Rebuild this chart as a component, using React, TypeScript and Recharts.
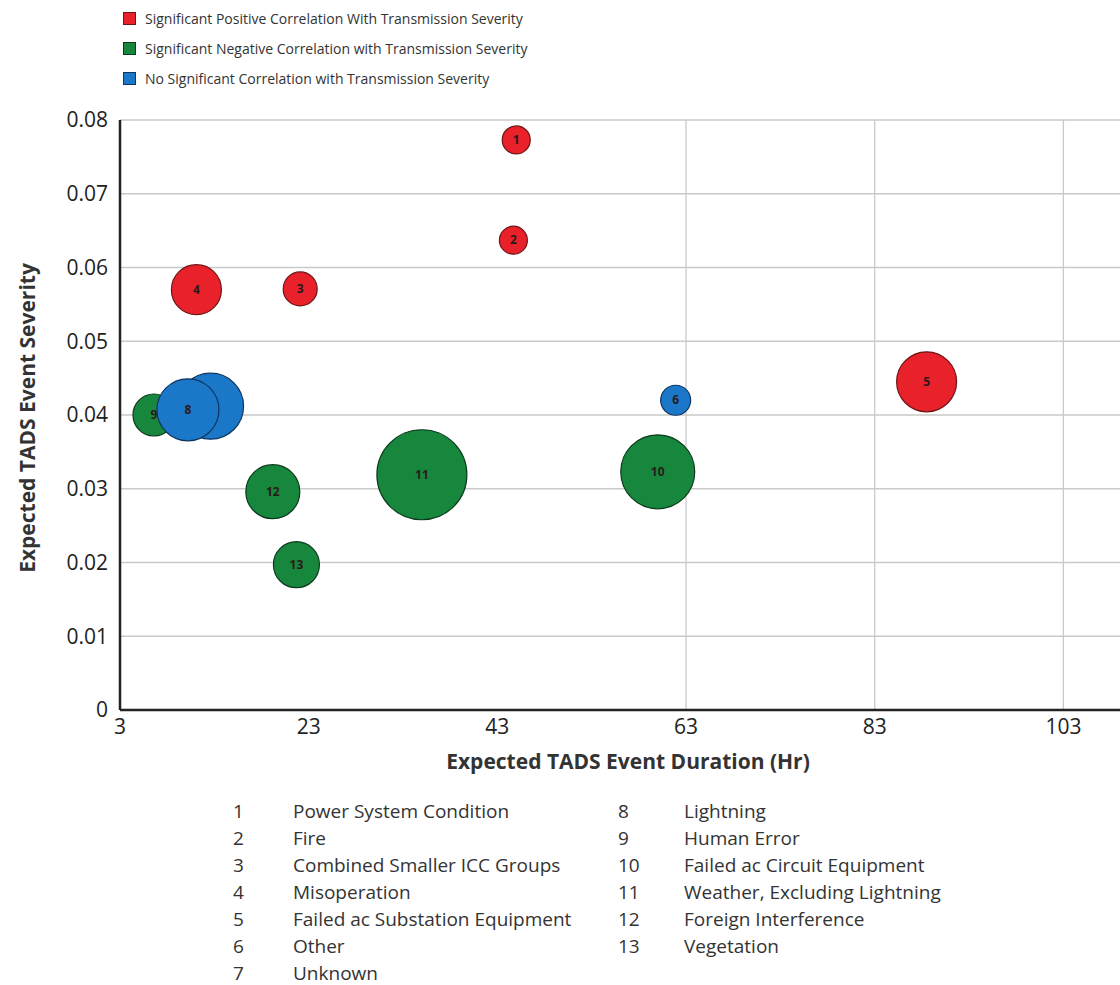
import React from 'react';
import {
  ScatterChart,
  Scatter,
  XAxis,
  YAxis,
  ZAxis,
  CartesianGrid,
  ReferenceLine,
} from 'recharts';

// ICC groups, numbered 1..13 in the chart
const groupIds = [1, 2, 3, 4, 5, 6, 7, 8, 9, 10, 11, 12, 13];
const groupNames = [
  'Power System Condition',
  'Fire',
  'Combined Smaller ICC Groups',
  'Misoperation',
  'Failed ac Substation Equipment',
  'Other',
  'Unknown',
  'Lightning',
  'Human Error',
  'Failed ac Circuit Equipment',
  'Weather, Excluding Lightning',
  'Foreign Interference',
  'Vegetation',
];
const duration = [45.0, 44.7, 22.1, 11.1, 88.5, 61.9, 12.6, 10.2, 6.6, 60.0, 35.0, 19.2, 21.7];
const severity = [0.0773, 0.0637, 0.0571, 0.057, 0.0445, 0.042, 0.0412, 0.0407, 0.04, 0.0323, 0.0319, 0.0296, 0.0197];
const bubbleSize = [196, 196, 289, 625, 900, 225, 1089, 961, 441, 1369, 2025, 729, 529];
const correlation = ['pos', 'pos', 'pos', 'pos', 'pos', 'none', 'none', 'none', 'neg', 'neg', 'neg', 'neg', 'neg'];

const xTicks = [3, 23, 43, 63, 83, 103];
const verticalGridX = [63, 83, 103];
const yTicks = [0, 0.01, 0.02, 0.03, 0.04, 0.05, 0.06, 0.07, 0.08];

const seriesDefs = [
  { key: 'pos', label: 'Significant Positive Correlation With Transmission Severity', fill: '#e8212b', stroke: '#6e1515' },
  { key: 'neg', label: 'Significant Negative Correlation with Transmission Severity', fill: '#17873d', stroke: '#0c3a1c' },
  { key: 'none', label: 'No Significant Correlation with Transmission Severity', fill: '#1b78c9', stroke: '#0c3560' },
];

const points = groupIds.map((id, i) => ({
  id,
  x: duration[i],
  y: severity[i],
  z: bubbleSize[i],
  group: correlation[i],
}));

const FONT = '"Open Sans", sans-serif';

function Bubble(props: any) {
  const { cx, cy, size, payload, color, edge } = props;
  const r = size ? Math.sqrt(size / Math.PI) : Math.sqrt(payload.z);
  return (
    <g>
      <circle cx={cx} cy={cy} r={r} fill={color} stroke={edge} strokeWidth={1.2} />
      <text
        x={cx}
        y={cy}
        dy={4}
        textAnchor="middle"
        fontSize={12}
        fontWeight={700}
        fontFamily={FONT}
        fill="#2b1a1a"
      >
        {payload.id}
      </text>
    </g>
  );
}

export default function App() {
  const leftCol = groupIds.slice(0, 7);
  const rightCol = groupIds.slice(7);
  return (
    <div style={{ position: 'relative', width: 1120, height: 985, background: '#fff', fontFamily: FONT, overflow: 'hidden' }}>
      <style>{'body{margin:0;overflow:hidden}'}</style>
      {/* series legend */}
      <div style={{ position: 'absolute', left: 123, top: 3 }}>
        {seriesDefs.map((s) => (
          <div key={s.key} style={{ display: 'flex', alignItems: 'center', height: 30 }}>
            <span style={{ width: 11, height: 11, background: s.fill, border: `1px solid ${s.stroke}`, marginRight: 9 }} />
            <span style={{ fontSize: 14, color: '#333' }}>{s.label}</span>
          </div>
        ))}
      </div>

      <div style={{ position: 'absolute', left: 0, top: 0 }}>
        <ScatterChart width={1120} height={780} margin={{ top: 120, right: 0, bottom: 30, left: 0 }}>
          <CartesianGrid vertical={false} stroke="#c9c9c9" strokeWidth={1.3} />
          {verticalGridX.map((x) => (
            <ReferenceLine key={x} x={x} stroke="#c9c9c9" strokeWidth={1.3} />
          ))}
          <XAxis
            type="number"
            dataKey="x"
            domain={[3, 109]}
            ticks={xTicks}
            allowDataOverflow
            height={40}
            tickLine={false}
            axisLine={{ stroke: '#222', strokeWidth: 2.5 }}
            tick={{ fontSize: 21, fill: '#222', fontFamily: FONT }}
            tickMargin={3}
          />
          <YAxis
            type="number"
            dataKey="y"
            domain={[0, 0.08]}
            ticks={yTicks}
            width={120}
            tickLine={false}
            axisLine={{ stroke: '#222', strokeWidth: 2.5 }}
            tick={{ fontSize: 21, fill: '#222', fontFamily: FONT }}
            tickMargin={6}
            tickFormatter={(v: number) => (v === 0 ? '0' : v.toFixed(2))}
          />
          <ZAxis type="number" dataKey="z" domain={[0, 2025]} range={[0, 2025 * Math.PI]} />
          {seriesDefs.map((s) => (
            <Scatter
              key={s.key}
              name={s.label}
              data={points.filter((p) => p.group === s.key)}
              isAnimationActive={false}
              shape={(p: any) => <Bubble {...p} color={s.fill} edge={s.stroke} />}
            />
          ))}
        </ScatterChart>
      </div>

      {/* axis titles */}
      <div style={{ position: 'absolute', left: 0, width: 1256, top: 747, textAlign: 'center', fontSize: 21, fontWeight: 700, color: '#333' }}>
        Expected TADS Event Duration (Hr)
      </div>
      <div
        style={{
          position: 'absolute',
          left: 27,
          top: 418,
          transform: 'translate(-50%, -50%) rotate(-90deg)',
          whiteSpace: 'nowrap',
          fontSize: 21,
          fontWeight: 700,
          color: '#333',
        }}
      >
        Expected TADS Event Severity
      </div>

      {/* ICC group key */}
      {[leftCol, rightCol].map((col, ci) => (
        <div key={ci} style={{ position: 'absolute', left: ci === 0 ? 225 : 612, top: 797 }}>
          {col.map((id) => (
            <div key={id} style={{ display: 'flex', height: 27, alignItems: 'center', fontSize: 19, color: '#333' }}>
              <span style={{ width: ci === 0 ? 68 : 72, paddingLeft: ci === 0 ? 8 : 6, boxSizing: 'border-box', flexShrink: 0 }}>{id}</span>
              <span>{groupNames[id - 1]}</span>
            </div>
          ))}
        </div>
      ))}
    </div>
  );
}
